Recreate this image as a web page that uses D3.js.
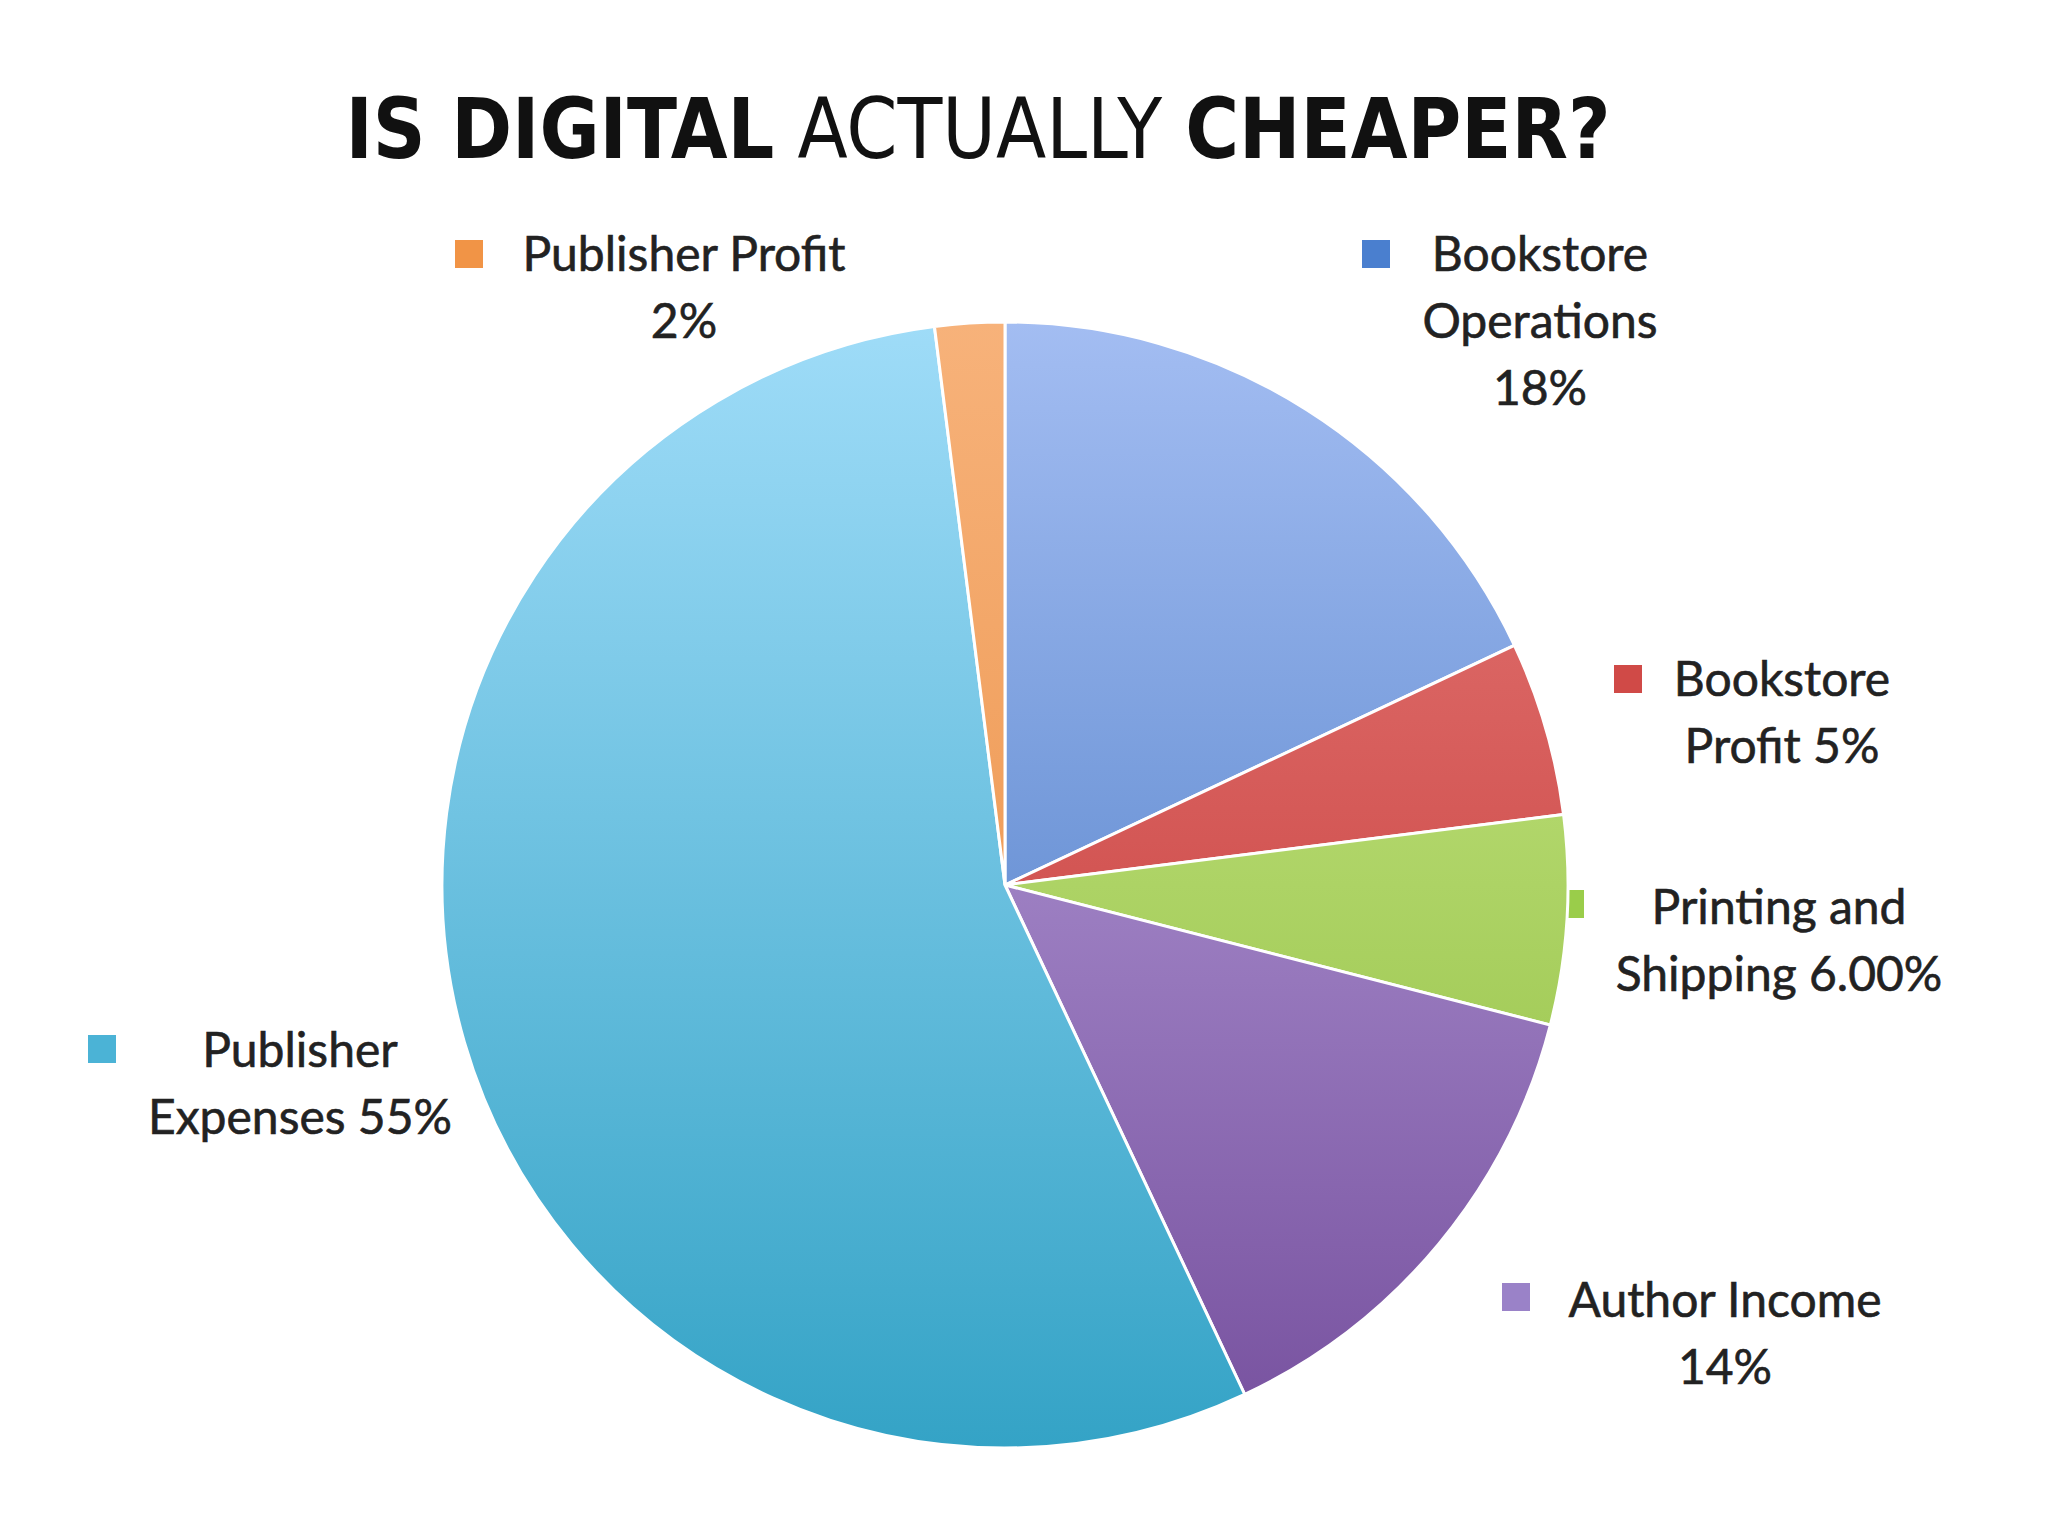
<!DOCTYPE html>
<html><head><meta charset="utf-8">
<script src="https://cdn.jsdelivr.net/npm/d3@7"></script>
<style>body{margin:0;background:#fff}</style></head>
<body><script>
const categories=["Bookstore Operations","Bookstore Profit","Printing and Shipping","Author Income","Publisher Expenses","Publisher Profit"];
const values=[18,5,6,14,55,2];
const labelLines=[["Bookstore","Operations","18%"],["Bookstore","Profit 5%"],["Printing and","Shipping 6.00%"],["Author Income","14%"],["Publisher","Expenses 55%"],["Publisher Profit","2%"]];
const light=["#a3bdf2","#e57a78","#cdeb8e","#c3aee6","#9fdcf8","#f7b27a"];
const dark=["#3b6fbd","#c0302e","#8dbb3c","#76509e","#34a3c6","#e8893a"];
const legendCol=["#4a7fcf","#d04a47","#9acd4a","#9a82c8","#4bb3d6","#f19446"];
const W=2048,H=1536,cx=1005,cy=885,r=563;
const svg=d3.select("body").append("svg").attr("width",W).attr("height",H);
const defs=svg.append("defs");
categories.forEach((c,i)=>{const g=defs.append("linearGradient").attr("id","g"+i).attr("gradientUnits","userSpaceOnUse").attr("x1",0).attr("y1",-r).attr("x2",0).attr("y2",r);
g.append("stop").attr("offset",0).attr("stop-color",light[i]);g.append("stop").attr("offset",1).attr("stop-color",dark[i]);});
const t=svg.append("text").attr("x",978).attr("y",158).attr("text-anchor","middle").attr("font-family","'DejaVu Sans Condensed','Liberation Sans Narrow',sans-serif").attr("font-size",84).attr("fill","#111")
 .attr("textLength",1265).attr("lengthAdjust","spacingAndGlyphs");
t.append("tspan").attr("font-weight","bold").text("IS DIGITAL");
t.append("tspan").attr("font-weight","normal").text(" ACTUALLY ");
t.append("tspan").attr("font-weight","bold").text("CHEAPER?");
const sq=[[1362,240],[1614,665],[1556,890],[1502,1283],[88,1035],[455,240]];
const txt=[[1540,271],[1782,696],[1779,924],[1725,1317],[300,1067],[684,271]];
categories.forEach((c,i)=>{
 svg.append("rect").attr("x",sq[i][0]).attr("y",sq[i][1]).attr("width",28).attr("height",28).attr("fill",legendCol[i]);
 const tx=svg.append("text").attr("font-family","Lato,'Open Sans',sans-serif").attr("font-size",48).attr("fill","#222")
  .attr("stroke","#222").attr("stroke-width",0.6).attr("text-anchor","middle");
 labelLines[i].forEach((l,j)=>{
  tx.append("tspan").attr("x",txt[i][0]).attr("y",txt[i][1]+j*67).text(l);});
});
const pie=d3.pie().sort(null).value(d=>d)(values);
const arc=d3.arc().innerRadius(0).outerRadius(r);
svg.append("g").attr("transform",`translate(${cx},${cy})`).selectAll("path").data(pie).join("path")
 .attr("d",arc).attr("fill",(d,i)=>`url(#g${i})`).attr("stroke","#fff").attr("stroke-width",3);
</script></body></html>
